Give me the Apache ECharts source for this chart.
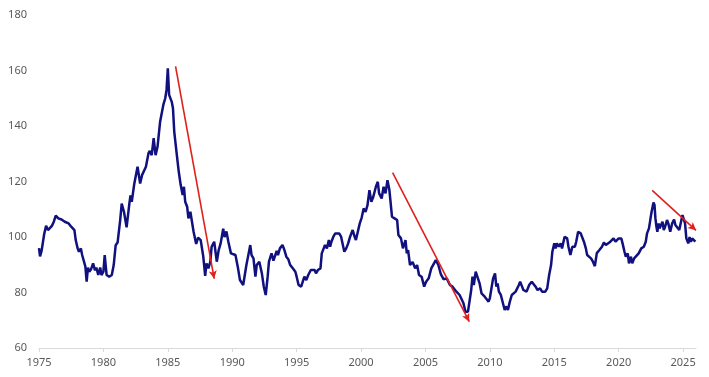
<!DOCTYPE html>
<html>
<head>
<meta charset="utf-8">
<script src="https://cdn.jsdelivr.net/npm/echarts@6/dist/echarts.min.js"></script>
<style>
html,body{margin:0;padding:0;background:#fff;}
#chart{width:709px;height:377px;}
</style>
</head>
<body>
<div id="chart"></div>
<script>
// Time (decimal years) and index values
const dates = [
1975.00,1975.08,1975.2,1975.4,1975.55,1975.7,1975.85,1976.0,1976.15,1976.3,1976.5,1976.75,1977.0,1977.3,1977.5,1977.75,1977.85,
1978.0,1978.1,1978.25,1978.35,1978.6,1978.7,1978.8,1978.9,1979.05,1979.2,1979.35,1979.45,1979.6,1979.75,1979.85,
1980.0,1980.1,1980.25,1980.45,1980.65,1980.8,1980.95,1981.1,1981.3,1981.42,1981.6,1981.8,
1982.0,1982.1,1982.2,1982.4,1982.55,1982.65,1982.85,1983.0,1983.3,1983.5,1983.6,1983.75,1983.9,
1984.05,1984.2,1984.4,1984.5,1984.65,1984.8,1984.9,1985.0,1985.1,1985.3,1985.4,1985.5,1985.7,1985.85,
1986.0,1986.15,1986.25,1986.35,1986.5,1986.6,1986.75,1987.0,1987.2,1987.35,1987.55,1987.75,1987.9,
1988.0,1988.15,1988.3,1988.4,1988.6,1988.8,1988.95,1989.1,1989.3,1989.4,1989.55,1989.7,1989.9,
1990.0,1990.25,1990.45,1990.6,1990.85,1990.95,1991.1,1991.2,1991.4,1991.5,1991.65,1991.8,1991.9,
1992.1,1992.3,1992.45,1992.6,1992.75,1992.85,1993.05,1993.2,1993.45,1993.55,1993.7,1993.9,
1994.05,1994.2,1994.35,1994.5,1994.7,1994.8,1994.9,1995.0,1995.15,1995.35,1995.5,1995.6,1995.75,1995.9,
1996.1,1996.25,1996.4,1996.5,1996.65,1996.85,1996.95,1997.1,1997.2,1997.35,1997.5,1997.6,1997.7,1997.85,
1998.0,1998.15,1998.3,1998.45,1998.55,1998.7,1998.85,1999.0,1999.15,1999.35,1999.5,1999.6,1999.75,1999.9,
2000.05,2000.2,2000.35,2000.5,2000.65,2000.8,2000.95,2001.15,2001.3,2001.4,2001.6,2001.75,2001.9,
2002.05,2002.2,2002.4,2002.6,2002.8,2002.9,2003.1,2003.25,2003.45,2003.55,2003.65,2003.8,
2004.0,2004.2,2004.35,2004.5,2004.7,2004.9,2005.05,2005.25,2005.45,2005.6,2005.8,
2006.0,2006.2,2006.4,2006.65,2006.9,2007.1,2007.4,2007.65,2007.95,2008.1,2008.3,2008.4,2008.55,2008.65,2008.75,2008.9,
2009.05,2009.2,2009.35,2009.6,2009.9,2010.0,2010.1,2010.25,2010.4,2010.5,2010.6,2010.7,2010.85,
2011.15,2011.25,2011.4,2011.55,2011.7,2011.85,2012.0,2012.15,2012.25,2012.35,2012.5,2012.6,2012.85,
2013.05,2013.25,2013.4,2013.55,2013.7,2013.9,2014.05,2014.3,2014.45,2014.6,2014.75,2014.85,
2015.0,2015.05,2015.1,2015.2,2015.35,2015.5,2015.6,2015.8,2016.0,2016.1,2016.25,2016.4,2016.6,2016.7,2016.85,
2017.05,2017.15,2017.3,2017.45,2017.55,2017.7,2017.85,2018.0,2018.15,2018.3,2018.5,2018.7,2018.85,
2019.0,2019.15,2019.35,2019.45,2019.6,2019.75,2019.85,2020.0,2020.2,2020.3,2020.45,2020.55,2020.7,2020.8,2020.95,
2021.05,2021.2,2021.35,2021.55,2021.75,2021.95,2022.1,2022.2,2022.35,2022.45,2022.55,2022.7,2022.78,2022.85,2022.93,
2023.0,2023.1,2023.17,2023.25,2023.3,2023.4,2023.5,2023.6,2023.75,2023.85,2024.0,2024.15,2024.3,2024.4,2024.55,2024.7,2024.95,
2025.05,2025.15,2025.25,2025.4,2025.5,2025.6,2025.7,2025.85,2025.95
];
const values = [
96,93,95,101,104,102.5,103,104,105.5,107.7,106.7,106.3,105.5,104.9,103.7,102.5,98.9,
95.9,94.7,95.9,93.5,89.3,83.9,89,87.5,88.5,90.5,88,89,86.3,89,86.3,
87.5,93.5,86.3,85.7,86.3,89.9,97,98,106,112,109,103.5,
111.5,115,112.7,119.3,119,125.3,119.3,122.3,125.3,130.2,131,129.5,135.6,
129.5,132.5,141.5,141,147.6,150,153,160.8,151.2,148.8,146.4,137.9,129.5,123.5,
118.7,115.1,118.1,112.7,110.9,106.7,109.1,101.9,97.5,99.8,98.9,93,86,
90.5,88.7,91.1,96.5,98.3,91.1,95.3,97.7,103,100,102,98.3,94.1,
94.1,93.5,88.7,84.5,82.7,83.3,89.9,92.3,97.1,93.5,92.3,85.7,89.9,
91.1,86.9,82.1,79.1,85.7,91.1,94.1,91.5,95,93.5,95.9,97.1,
95.3,92.9,92,89.9,88.7,89.3,87.5,85.7,82.7,82.1,82.7,85.7,84.5,86.3,
88.1,87.5,88.1,86.9,88.1,88.7,94.1,95.9,97.1,95.9,98.9,96.5,98.3,100.1,
101.3,101.3,101.3,100.1,100.7,94.7,95.9,97.7,100.1,102.5,100.1,98.9,99.5,104.9,
107,110.3,109,111.5,116.9,112.7,114.5,118.1,119.9,115.7,113.9,118.1,115.7,
120.5,116.9,107.3,106.7,106.1,100.7,99.5,95.9,98.9,94.1,95.3,89.9,
91,88.7,89.9,86.3,85.7,82.1,83.9,85.1,88.7,89.3,91.7,
89.9,86.5,84.8,85.1,82.7,82.1,80.3,79.1,76.1,73.1,73.1,73.7,80.9,85.7,82.7,87.5,
88.1,83.3,79.7,78.5,76.7,78,80.9,85.1,86.9,82.1,83.3,80.3,79.1,
73.7,75,73.7,76.7,79.1,78.5,80.3,80.5,82.7,83.9,82.1,80.9,80.3,
82.7,83.9,83.3,82.1,80.9,81.5,80.3,80.3,81.5,86.3,89.9,94.7,
97.7,98.3,95.9,97.7,96.5,97.7,95.9,100.1,99.5,96.5,93.5,96.5,96.5,98.3,101.9,
101.3,100.1,98.3,95.9,93.5,94.1,92.3,91.1,89.5,94.2,95.3,96.5,98,
97.1,97.7,98.3,97.7,99.5,98.3,98.3,99.5,99.5,97.7,94.7,92.9,94.1,90.5,92.9,
90.5,92.3,91.7,94.1,95.9,96.5,98.3,101.3,103.1,106.1,109,112.4,111.5,106.7,103.7,
101.9,104.9,103.1,103.7,102.5,105.5,102.5,103.7,106.1,104.9,101.9,104.9,106.3,104.3,104.9,102.5,107.9,
108.5,104.9,99.5,97.7,100,98.3,99.5,98.9,98.3
];
// Red trend arrows: [startYear, startValue, endYear, endValue]
const arrowStartX = [1985.6, 2002.45, 2022.6];
const arrowStartY = [161.5, 123.2, 116.8];
const arrowEndX = [1988.6, 2008.4, 2026.0];
const arrowEndY = [85, 69.5, 102.4];

const yTicks = [60, 80, 100, 120, 140, 160, 180];
const xTicks = [1975,1980,1985,1990,1995,2000,2005,2010,2015,2020,2025];

const seriesData = dates.map((d, i) => [d, values[i]]);
const arrows = arrowStartX.map((x, i) => [
  { coord: [x, arrowStartY[i]] },
  { coord: [arrowEndX[i], arrowEndY[i]] }
]);

const chart = echarts.init(document.getElementById('chart'), null, { renderer: 'canvas' });
const labelStyle = { color: '#595959', fontSize: 11, fontFamily: 'Noto Sans' };
chart.setOption({
  animation: false,
  backgroundColor: '#ffffff',
  grid: { left: 39, right: 13, top: 15, bottom: 29, containLabel: false },
  xAxis: {
    type: 'value',
    min: xTicks[0],
    max: 2026,
    interval: 5,
    splitLine: { show: false },
    axisLine: { show: true, lineStyle: { color: '#d9d9d9', width: 1 } },
    axisTick: { show: true, length: 4, lineStyle: { color: '#d9d9d9' } },
    axisLabel: Object.assign({
      margin: 9,
      showMaxLabel: false,
      formatter: v => (xTicks.indexOf(v) >= 0 ? String(v) : '')
    }, labelStyle)
  },
  yAxis: {
    type: 'value',
    min: yTicks[0],
    max: yTicks[yTicks.length - 1],
    interval: 20,
    splitLine: { show: false },
    axisLine: { show: false },
    axisTick: { show: false },
    axisLabel: Object.assign({ margin: 12 }, labelStyle)
  },
  series: [
    {
      type: 'line',
      data: seriesData,
      showSymbol: false,
      symbol: 'none',
      lineStyle: { color: '#10107f', width: 2.5 },
      z: 2
    },
    {
      type: 'line',
      data: [],
      z: 3,
      markLine: {
        silent: true,
        symbol: ['none', 'arrow'],
        symbolSize: [6, 8],
        label: { show: false },
        lineStyle: { color: '#e0201c', width: 1.6, type: 'solid' },
        data: arrows
      }
    }
  ]
});
</script>
</body>
</html>
